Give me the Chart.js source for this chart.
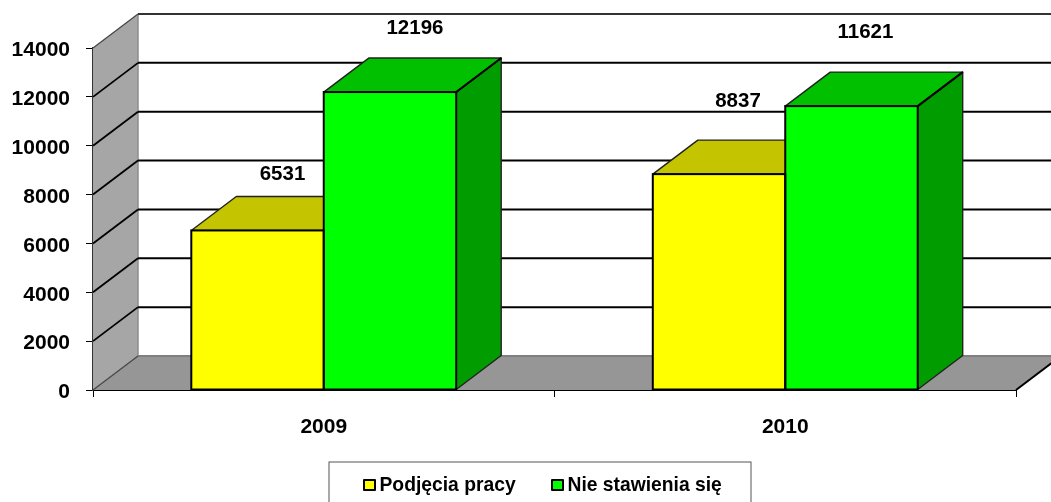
<!DOCTYPE html>
<html>
<head>
<meta charset="utf-8">
<title>Podjęcia pracy / Nie stawienia się</title>
<style>
    html, body { margin: 0; padding: 0; background: #fff; overflow: hidden; }
    canvas { display: block; }
</style>
</head>
<body>
<canvas id="chart" width="1051" height="502"></canvas>
<script src="https://cdn.jsdelivr.net/npm/chart.js@4"></script>
<script>
const categories = ["2009", "2010"];
const podjecia = [6531, 8837];
const nieStawienia = [12196, 11621];
const yTicks = [0, 2000, 4000, 6000, 8000, 10000, 12000, 14000];

// 3D look: how far the back wall sits from the front plane
const DEPTH_X = 45;
const DEPTH_Y = 34;
const FAMILY = "'Liberation Sans', Arial, sans-serif";

// value labels were placed by hand in the original, offsets from the bar's top centre
const labelOffsets = [
    [[25, -56.5], [19, -73]],
    [[25, -64], [14, -74]]
];
const topColors = ["#c4c400", "#00c000"];
const sideColors = ["#9c9c00", "#009c00"];

function poly(ctx, pts, fill, stroke, width) {
    ctx.beginPath();
    pts.forEach((p, i) => i ? ctx.lineTo(p[0], p[1]) : ctx.moveTo(p[0], p[1]));
    ctx.closePath();
    if (fill) { ctx.fillStyle = fill; ctx.fill(); }
    if (stroke) { ctx.strokeStyle = stroke; ctx.lineWidth = width; ctx.stroke(); }
}

function line(ctx, x1, y1, x2, y2, color, width) {
    ctx.beginPath();
    ctx.moveTo(x1, y1);
    ctx.lineTo(x2, y2);
    ctx.strokeStyle = color;
    ctx.lineWidth = width;
    ctx.stroke();
}

// Walls, floor and the depth faces of the bars, all under the library's front faces
const walls = {
    id: "walls",
    beforeDatasetsDraw(chart) {
        const { ctx, chartArea: a, scales: { y } } = chart;
        const left = a.left, right = a.right, bottom = y.getPixelForValue(0), top = y.getPixelForValue(14000);
        const dx = DEPTH_X, dy = DEPTH_Y;

        ctx.save();
        ctx.lineJoin = "round";
        poly(ctx, [[left, bottom], [left + dx, bottom - dy], [left + dx, top - dy], [left, top]], "#a6a6a6");
        poly(ctx, [[left, bottom], [right, bottom], [right + dx, bottom - dy], [left + dx, bottom - dy]], "#969696");
        line(ctx, left + dx, top - dy, left + dx, bottom - dy, "#8c8c8c", 1.5);

        yTicks.forEach(v => {
            const py = y.getPixelForValue(v);
            const color = v === 0 ? "#7f7f7f" : v === 14000 ? "#333" : "#000";
            line(ctx, left + dx, py - dy, right + dx, py - dy, color, 2);
            if (v === 0 || v === 14000) line(ctx, left, py, left + dx, py - dy, "#444", 1.2);
            else line(ctx, left, py, left + dx, py - dy, "#000", 1.8);
        });
        line(ctx, right, bottom, right + dx, bottom - dy, "#000", 2);

        chart.data.datasets.forEach((ds, d) => {
            chart.getDatasetMeta(d).data.forEach(bar => {
                const x1 = bar.x - bar.width / 2, x2 = bar.x + bar.width / 2;
                const yTop = bar.y, yBase = bar.base;
                poly(ctx, [[x2, yTop], [x2 + dx, yTop - dy], [x2 + dx, yBase - dy], [x2, yBase]], sideColors[d], "#222", 1.4);
                poly(ctx, [[x1, yTop], [x1 + dx, yTop - dy], [x2 + dx, yTop - dy], [x2, yTop]], topColors[d], "#222", 1.4);
                line(ctx, x2, yTop, x2 + dx, yTop - dy, "#000", 2);
            });
        });
        ctx.restore();
    },
    // one shared 2px outline on the bar edges, the library's border sits inside each bar
    afterDatasetsDraw(chart) {
        const { ctx } = chart;
        ctx.save();
        ctx.strokeStyle = "#000";
        ctx.lineWidth = 2;
        chart.data.datasets.forEach((ds, d) => {
            chart.getDatasetMeta(d).data.forEach(bar => {
                ctx.strokeRect(bar.x - bar.width / 2, bar.y, bar.width, bar.base - bar.y);
            });
        });
        ctx.restore();
    },
    afterDraw(chart) {
        const { ctx, data } = chart;
        ctx.save();
        ctx.font = "bold 20.5px " + FAMILY;
        ctx.fillStyle = "#000";
        ctx.textAlign = "center";
        ctx.textBaseline = "middle";
        data.datasets.forEach((ds, d) => {
            chart.getDatasetMeta(d).data.forEach((bar, i) => {
                const off = labelOffsets[d][i];
                ctx.fillText(String(ds.data[i]), bar.x + off[0], bar.y + off[1]);
            });
        });

        // legend box, bottom edge runs off the picture
        ctx.fillStyle = "#fff";
        ctx.strokeStyle = "#555";
        ctx.lineWidth = 1;
        ctx.fillRect(329, 462, 422, 50);
        ctx.strokeRect(329, 462, 422, 50);
        ctx.font = "bold 19.3px " + FAMILY;
        ctx.textAlign = "left";
        const swatchX = [364, 552];
        data.datasets.forEach((ds, d) => {
            ctx.fillStyle = ds.backgroundColor;
            ctx.strokeStyle = "#000";
            ctx.lineWidth = 2;
            ctx.lineJoin = "round";
            ctx.fillRect(swatchX[d], 480, 11, 10);
            ctx.strokeRect(swatchX[d], 480, 11, 10);
            ctx.fillStyle = "#000";
            ctx.fillText(ds.label, swatchX[d] + 15.5, 486);
        });
        ctx.restore();
    }
};

new Chart(document.getElementById("chart"), {
    type: "bar",
    data: {
        labels: categories,
        datasets: [
            { label: "Podjęcia pracy", data: podjecia, backgroundColor: "#ffff00", borderWidth: 0 },
            { label: "Nie stawienia się", data: nieStawienia, backgroundColor: "#00ff00", borderWidth: 0 }
        ]
    },
    options: {
        responsive: false,
        animation: false,
        layout: { padding: { top: 48, right: 35, left: 0, bottom: 0 } },
        datasets: { bar: { categoryPercentage: 0.574, barPercentage: 1 } },
        plugins: { legend: { display: false }, tooltip: { enabled: false } },
        scales: {
            x: {
                afterFit: s => { s.height = 112; },
                grid: { drawOnChartArea: false, color: "#000", tickLength: 7 },
                border: { color: "#000", width: 2 },
                ticks: { color: "#000", font: { family: FAMILY, size: 21, weight: "bold" }, padding: 18, maxRotation: 0 }
            },
            y: {
                min: 0,
                max: 14000,
                afterFit: s => { s.width = 93; },
                afterBuildTicks: s => { s.ticks = yTicks.map(value => ({ value })); },
                grid: { drawOnChartArea: false, color: "#000", tickLength: 7 },
                border: { color: "#333", width: 1.5 },
                ticks: { color: "#000", font: { family: FAMILY, size: 21, weight: "bold" }, padding: 16, labelOffset: 2.5, callback: v => String(v) }
            }
        }
    },
    plugins: [walls]
});
</script>
</body>
</html>
